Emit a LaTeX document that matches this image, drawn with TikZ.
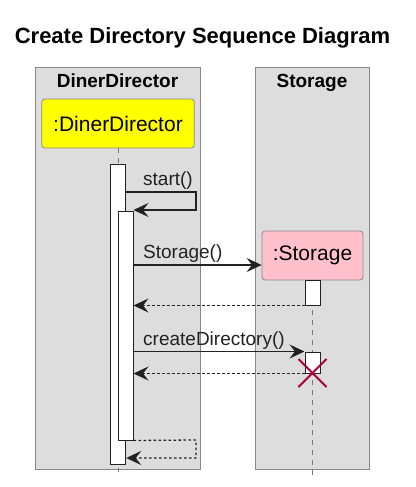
\documentclass[tikz,border=0pt]{standalone}
\usepackage{fontspec}
\setmainfont{Liberation Sans}
\usetikzlibrary{arrows.meta,positioning}
\definecolor{lanegray}{HTML}{DDDDDD}
\definecolor{laneedge}{HTML}{888888}
\definecolor{headyellow}{HTML}{FFFF00}
\definecolor{headpink}{HTML}{FFC0CB}
\definecolor{msgdark}{HTML}{222222}
\definecolor{killred}{HTML}{A80036}

\tikzset{
  lane/.style={draw=laneedge, fill=lanegray, line width=0.8pt, minimum width=#1, minimum height=402, inner sep=0pt},
  lanetitle/.style={font=\fontsize{19}{21}\selectfont\bfseries, anchor=base},
  head/.style={draw=laneedge, rounded corners=3pt, line width=0.8pt, font=\fontsize{21}{24}\selectfont, inner sep=0pt, minimum height=49},
  actbar/.style={draw=msgdark, fill=white, line width=1pt, minimum width=15, inner sep=0pt},
  lifeline/.style={draw=msgdark!60, dash pattern=on 5pt off 5pt, line width=0.8pt},
  msg/.style={draw=msgdark, line width=1.3pt, -{Stealth[length=15pt,width=14pt,inset=5.5pt]}},
  reply/.style={msg, dash pattern=on 2.5pt off 2.5pt},
  msglabel/.style={font=\fontsize{19}{22}\selectfont, text=msgdark, inner sep=0pt, anchor=base west},
}

\begin{document}
\begin{tikzpicture}[x=1pt, y=-1pt, line join=miter]
  \useasboundingbox (0,0) rectangle (415,487);

  % --- TITLE ---
  \node[font=\fontsize{22}{25}\selectfont\bfseries, anchor=base] (title) at (202.5,44) {Create Directory Sequence Diagram};

  % --- LANES ---
  \node[lane=165] (ddlane) at (117.5,268) {};
  \node[lane=114] (stlane) at (312,268) {};
  \node[lanetitle] (ddtitle) at (117.5,88) {DinerDirector};
  \node[lanetitle] (sttitle) at (312,88) {Storage};

  % --- PARTICIPANTS ---
  \node[head, fill=headyellow, minimum width=152.5] (ddhead) at (118,123.5) {:DinerDirector};
  \node[head, fill=headpink, minimum width=101] (sthead) at (312.5,255.5) {:Storage};

  % lifelines
  \coordinate (ddend) at (118,472);
  \coordinate (stend) at (312.5,478);
  \draw[lifeline] (ddhead.south) -- (ddend);
  \draw[lifeline] (sthead.south) -- (stend);

  % --- ACTIVATIONS ---
  \node[actbar, minimum height=300] (ddbar) at (118.2,314) {};
  \node[actbar, minimum height=229] (ddbarin) at (125.5,325.5) {};
  \node[actbar, minimum height=25] (stbar) at (312.5,292.5) {};
  \node[actbar, minimum height=21] (stbarcd) at (312.5,362.5) {};

  % --- MESSAGES ---
  \coordinate (startlvl) at (0,192);
  \coordinate (selfA) at (196,192);
  \coordinate (selfB) at (196,210);
  \draw[msg] (ddbar.east |- startlvl) -- (selfA) -- (selfB) -- (ddbarin.east |- selfB);
  \node[msglabel] (startlbl) at (143,185) {start()};

  \coordinate (storlvl) at (0,265);
  \draw[msg] (ddbarin.east |- storlvl) -- (sthead.west |- storlvl);
  \node[msglabel] (storlbl) at (143,258) {Storage()};
  \draw[reply] (stbar.south west) -- (ddbarin.east |- stbar.south west);

  \draw[msg] (ddbarin.east |- stbarcd.north west) -- (stbarcd.north west);
  \node[msglabel] (cdlbl) at (143,345) {createDirectory()};
  \draw[reply] (stbarcd.south west) -- (ddbarin.east |- stbarcd.south west);

  % return of start()
  \coordinate (selfC) at (196,440);
  \coordinate (selfD) at (196,458);
  \draw[reply] (ddbarin.south east) -- (selfC) -- (selfD) -- (ddbar.east |- selfD);

  % --- DESTROY ---
  \coordinate (kill) at (312.5,373);
  \draw[killred, line width=2pt] (kill) ++(-14,-14) -- ++(28,28);
  \draw[killred, line width=2pt] (kill) ++(-14,14) -- ++(28,-28);
\end{tikzpicture}
\end{document}
